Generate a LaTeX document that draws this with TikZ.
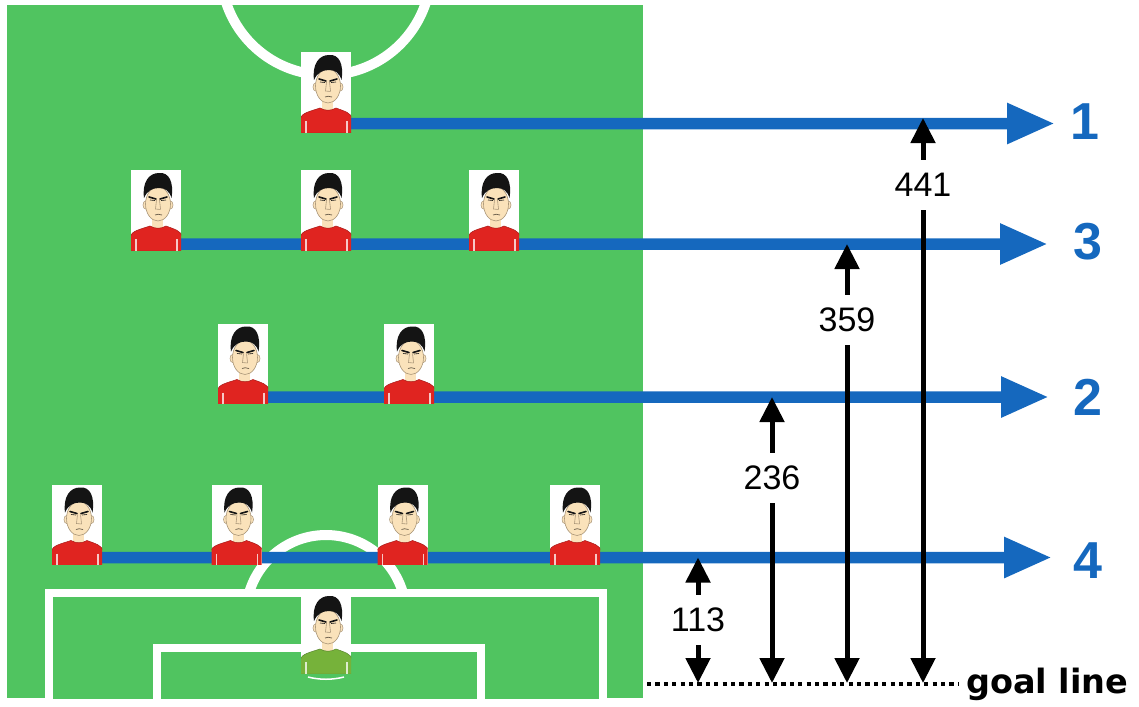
\documentclass[tikz,border=0pt]{standalone}
\usepackage{fontspec}
\setmainfont{Liberation Sans}
\newfontfamily\djv{DejaVu Sans}
\usetikzlibrary{arrows.meta,calc}
\pgfdeclarelayer{pitchlayer}
\pgfdeclarelayer{linelayer}
\pgfsetlayers{pitchlayer,linelayer,main}
\definecolor{pitchgreen}{RGB}{80,196,96}
\definecolor{lineblue}{RGB}{21,104,190}
\definecolor{shirtred}{RGB}{224,36,32}
\definecolor{shirtgreen}{RGB}{118,178,58}
\definecolor{skin}{RGB}{250,226,186}
\definecolor{skinline}{RGB}{170,150,120}
\definecolor{hairc}{RGB}{20,20,20}
\newcommand\playerart[1]{%
\begin{scope}[shift={(path picture bounding box.center)}]
 \fill[skin] (-4,4) rectangle (7,18);
 \filldraw[fill=skin, draw=skinline, line width=0.5] (-10.5,-5) ellipse (2.5 and 4);
 \filldraw[fill=skin, draw=skinline, line width=0.5] (14.5,-5) ellipse (2.5 and 4);
 \filldraw[fill=skin, draw=skinline, line width=0.6] (2,-6) ellipse (12.5 and 17);
 \fill[hairc] (-12,-12) .. controls (-14,-28) and (-7,-37) .. (3,-37) .. controls (13,-38) and (18,-28) .. (15.5,-12) .. controls (13.5,-19) and (9,-22) .. (3,-22) .. controls (-4,-22) and (-9,-19) .. cycle;
 \draw[hairc, line width=1.6, line cap=round] (-7,-13) -- (0,-11) (4,-11) -- (11,-13);
 \draw[hairc, line width=0.6] (-6,-10) -- (-1,-9.5) (5,-9.5) -- (10,-10);
 \draw[skinline, line width=0.6] (0.5,-10) -- (-0.5,-1) -- (4.5,-0.5) (3.5,-10) -- (4.5,-1);
 \draw[skinline!60!black, line width=0.7] (-1,5) .. controls (1,4) and (3,4) .. (6,5);
 \filldraw[fill=#1, draw=#1!75!black, line width=0.5] (-26,41) -- (-26,27) .. controls (-25,21) and (-15,19) .. (-6,16) .. controls (-1,19) and (5,19) .. (10,16) .. controls (18,19) and (26,21) .. (26,27) -- (26,41) -- cycle;
 \draw[white!75!#1, line width=1.2] (-20,29) -- (-20,41) (21,29) -- (21,41);
\end{scope}}
\tikzset{
 player/.style={rectangle, fill=white, inner sep=0pt, minimum width=50pt, minimum height=80pt, path picture={\playerart{#1}}},
 blueline/.style={lineblue, line width=11.5pt, -{Triangle[width=38pt,length=48pt]}},
 bluelabel/.style={lineblue, font=\bfseries\fontsize{52}{60}\selectfont, inner sep=0pt},
 numlabel/.style={font=\fontsize{34}{40}\selectfont, inner sep=0pt, minimum height=50pt},
 blackarrow/.style={black, line width=5pt, -{Triangle[width=24pt,length=25pt]}},
 pitchline/.style={white, line width=8pt}
}
\begin{document}
\begin{tikzpicture}[x=1pt,y=-1pt]
\useasboundingbox (0,0) rectangle (1139,706);
% pitch
\begin{pgfonlayer}{pitchlayer}
 \fill[pitchgreen] (7,5) rectangle (643,698);
 \begin{scope}
  \clip (7,5) rectangle (643,698);
  \draw[white, line width=10pt] (326,-30) circle (105);
  \draw[white, line width=10pt] (326,615) circle (80);
  \fill[pitchgreen] (48.5,593) rectangle (603,710);
  \draw[pitchline] (48.5,710) -- (48.5,593) -- (603,593) -- (603,710);
  \draw[pitchline] (157,710) -- (157,648) -- (481,648) -- (481,710);
 \end{scope}
\end{pgfonlayer}
% players
\node[player=shirtred] (p1) at (326,92) {};
\node[player=shirtred] (p3a) at (156,210) {};
\node[player=shirtred] (p3b) at (326,210) {};
\node[player=shirtred] (p3c) at (494,210) {};
\node[player=shirtred] (p2a) at (243,363.5) {};
\node[player=shirtred] (p2b) at (409,363.5) {};
\node[player=shirtred] (p4a) at (77,524.5) {};
\node[player=shirtred] (p4b) at (236.5,524.5) {};
\node[player=shirtred] (p4c) at (402.5,524.5) {};
\node[player=shirtred] (p4d) at (575,524.5) {};
\node[player=shirtgreen] (gk) at (326,633) {};
\draw[white, line width=1.5pt] ($(gk)+(-18,44)$) .. controls ($(gk)+(-6,47)$) and ($(gk)+(6,47)$) .. ($(gk)+(18,44)$);
% line labels
\node[bluelabel] (n1) at (1085,122) {1};
\node[bluelabel] (n3) at (1088,242) {3};
\node[bluelabel] (n2) at (1088,397) {2};
\node[bluelabel] (n4) at (1088,561) {4};
\coordinate (t1) at (1055,123.5);
\coordinate (t3) at (1048,244);
\coordinate (t2) at (1049,397);
\coordinate (t4) at (1052,557.5);
\coordinate (s1) at ($(p1.south)+(0,-8.5)$);
\coordinate (s3) at ($(p3a.south)+(0,-6)$);
\coordinate (s2) at ($(p2a.south)+(0,-6.5)$);
\coordinate (s4) at ($(p4a.south)+(0,-7)$);
\begin{pgfonlayer}{linelayer}
 \draw[blueline] (s1) -- (t1);
 \draw[blueline] (s3) -- (t3);
 \draw[blueline] (s2) -- (t2);
 \draw[blueline] (s4) -- (t4);
\end{pgfonlayer}
% goal line
\coordinate (gl0) at (647,684);
\coordinate (gl1) at (958,684);
\draw[black, line width=4.5pt, dash pattern=on 4.2pt off 4.2pt] (gl0) -- (gl1);
\node[anchor=west, inner sep=0pt, font=\djv\bfseries\fontsize{33.5}{40}\selectfont] (gltext) at (966,684) {goal line};
% distances
\node[numlabel] (d113) at (698,620) {113};
\node[numlabel] (d236) at (772,478) {236};
\node[numlabel] (d359) at (847,320) {359};
\node[numlabel] (d441) at (923,185) {441};
\coordinate (u113) at (698,557.5);
\coordinate (u236) at (772,397);
\coordinate (u359) at (847,244);
\coordinate (u441) at (923,118);
\coordinate (g113) at (698,683);
\coordinate (g236) at (772,683);
\coordinate (g359) at (847,683);
\coordinate (g441) at (923,683);
\foreach \n in {113,236,359,441}{
 \draw[blackarrow] (d\n) -- (u\n);
 \draw[blackarrow] (d\n) -- (g\n);
}
\end{tikzpicture}
\end{document}
